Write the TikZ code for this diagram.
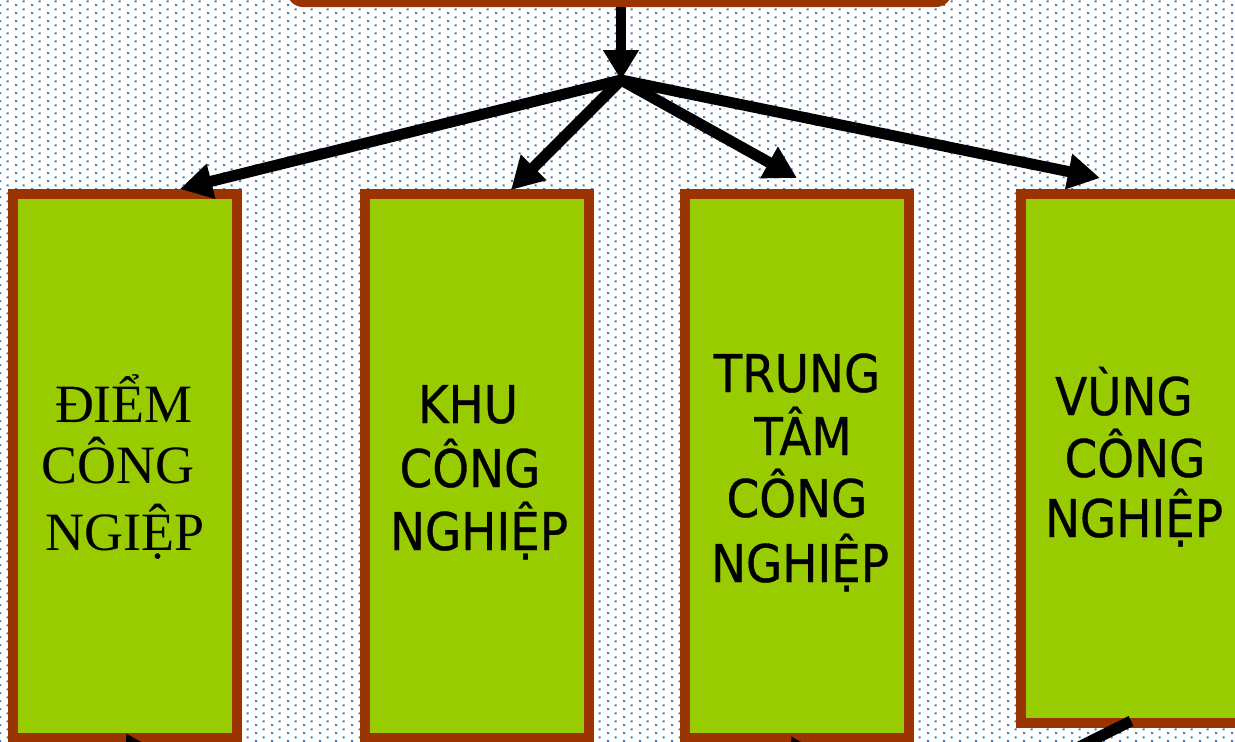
\documentclass[tikz,border=0pt]{standalone}
\usepackage{fontspec}
\newfontfamily\serv{Liberation Serif}
\newfontfamily\sanv{DejaVu Sans}[FakeStretch=0.9,FakeBold=0.6]
\usetikzlibrary{arrows.meta,patterns}
\definecolor{brn}{RGB}{153,51,0}
\definecolor{grn}{RGB}{153,204,0}
\definecolor{dotblue}{RGB}{70,120,192}
\pgfdeclarepatternformonly{bgdots}{\pgfpointorigin}{\pgfqpoint{16pt}{8pt}}{\pgfqpoint{16pt}{8pt}}{%
  \pgfpathrectangle{\pgfqpoint{0pt}{0pt}}{\pgfqpoint{2.2pt}{2.2pt}}%
  \pgfpathrectangle{\pgfqpoint{8pt}{4pt}}{\pgfqpoint{2.2pt}{2.2pt}}%
  \pgfusepath{fill}}
\tikzset{
  topbox/.style={fill=brn, rounded corners=16pt, minimum width=665pt, minimum height=80pt, inner sep=0pt},
  catbox/.style={draw=brn, line width=10pt, fill=grn, minimum width=224pt, inner sep=0pt},
  arr/.style={line width=11pt, -{Triangle[length=32pt,width=34pt]}},
  arrv/.style={line width=10pt, -{Triangle[length=30pt,width=34pt]}},
  thickln/.style={line width=11pt},
  sertxt/.style={font=\serv\fontsize{54}{64}\selectfont, anchor=base, inner sep=0pt},
  santxt/.style={font=\sanv\fontsize{52}{63}\selectfont, anchor=base, inner sep=0pt}
}
\begin{document}
\begin{tikzpicture}[x=1pt,y=-1pt]
\useasboundingbox (0,0) rectangle (1235,742);
\clip (0,0) rectangle (1235,742);
\fill[white] (0,0) rectangle (1235,742);
\fill[pattern=bgdots, pattern color=dotblue] (0,0) rectangle (1235,742);

% top box (cut off)
\node[topbox] (top) at (619.5,-33) {};

% four boxes
\node[catbox, minimum height=544pt] (b1) at (125,466) {};
\node[catbox, minimum height=544pt] (b2) at (477,466) {};
\node[catbox, minimum height=544pt] (b3) at (797,466) {};
\node[catbox, minimum height=529pt] (b4) at (1133,458.5) {};

% texts
\node[sertxt] (b1l1) at (124,422) {ĐIỂM};
\node[sertxt] (b1l2) at (118,483) {CÔNG};
\node[sertxt] (b1l3) at (125,550) {NGIỆP};

\node[santxt] (b2l1) at (468,423) {KHU};
\node[santxt] (b2l2) at (470,487) {CÔNG};
\node[santxt] (b2l3) at (479,550) {NGHIỆP};

\node[santxt] (b3l1) at (797,392) {TRUNG};
\node[santxt] (b3l2) at (803,455) {TÂM};
\node[santxt] (b3l3) at (797,517) {CÔNG};
\node[santxt] (b3l4) at (800,582) {NGHIỆP};

\node[santxt] (b4l1) at (1124,415) {VÙNG};
\node[santxt] (b4l2) at (1135,477) {CÔNG};
\node[santxt] (b4l3) at (1134,537) {NGHIỆP};

% connectors
\coordinate (J) at (621,80);
\coordinate (t1) at (180,189);
\coordinate (t2) at (511,190);
\coordinate (t3) at (797,178);
\coordinate (t4) at (1100,178);
\draw[arrv] (J |- top.south) -- (J);
\draw[arr] (J) -- (t1);
\draw[arr] (J) -- (t2);
\draw[arr] (J) -- (t3);
\draw[arr] (J) -- (t4);

% partial connectors at the bottom
\coordinate (s1) at (166,803);
\coordinate (u1) at (126,733);
\coordinate (s3) at (831,806);
\coordinate (u3) at (791,736);
\coordinate (u4) at (1131,721);
\coordinate (s4) at (1031,771);
\draw[arr] (s1) -- (u1);
\draw[arr] (s3) -- (u3);
\draw[thickln] (u4) -- (s4);
\end{tikzpicture}
\end{document}
